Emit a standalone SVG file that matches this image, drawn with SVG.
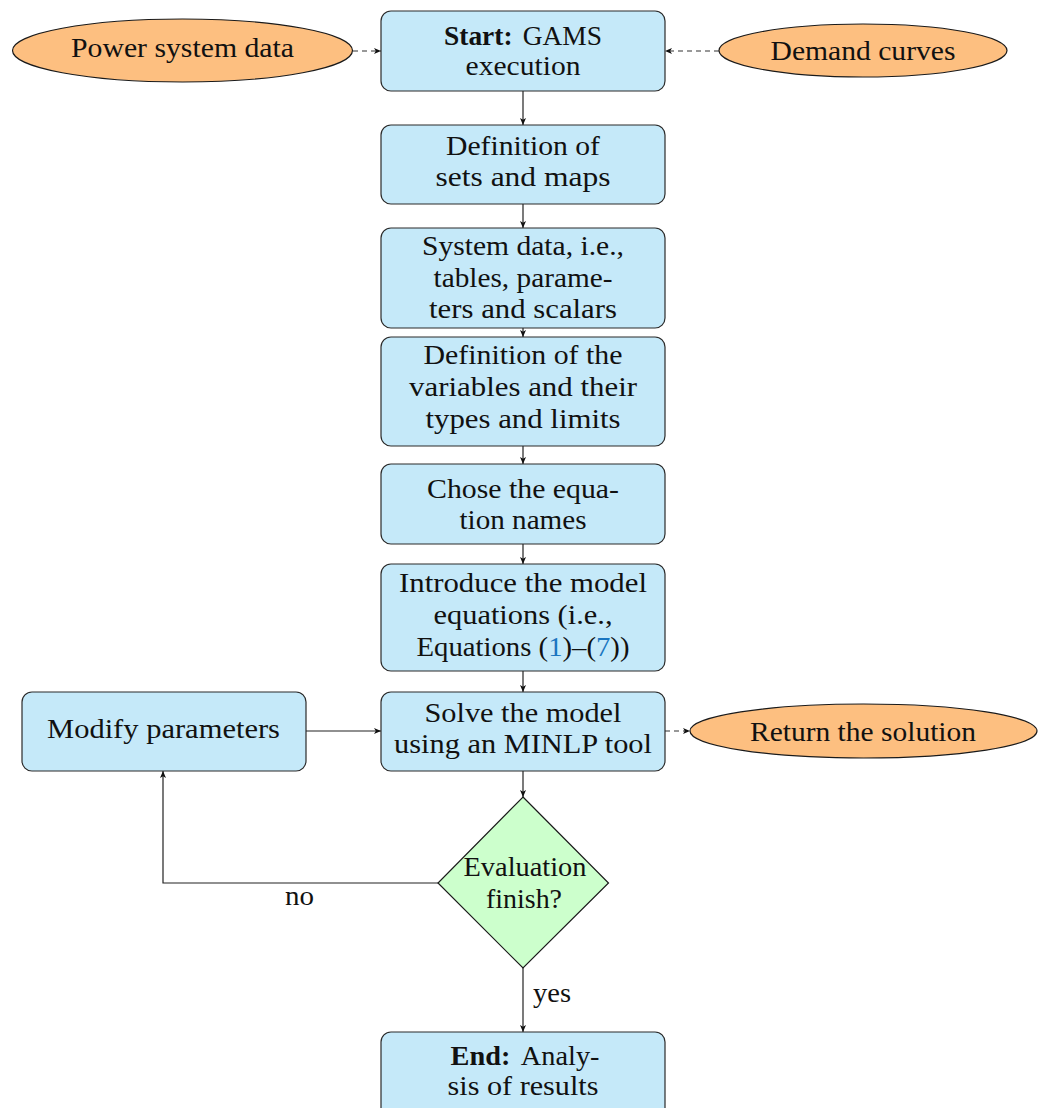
<svg xmlns="http://www.w3.org/2000/svg" width="1041" height="1108" viewBox="0 0 1041 1108">
<style>
  .box { fill: #c5e9f9; stroke: #2b2b2b; stroke-width: 1.2; }
  .ell { fill: #fdbf80; stroke: #1a1a1a; stroke-width: 1.2; }
  .dia { fill: #ccffcc; stroke: #1a1a1a; stroke-width: 1.2; }
  text { font-family: "Liberation Serif", "Times New Roman", serif; font-size: 27px; fill: #111; text-anchor: middle; }
  .b { font-weight: bold; }
  .ref { fill: #1a75c0; }
  .c { fill: none; stroke: #222; stroke-width: 1.2; }
  .d { stroke-dasharray: 5 4; stroke: #333; }
</style>
<defs>
  <marker id="ah" markerUnits="userSpaceOnUse" markerWidth="10" markerHeight="8" refX="7" refY="3" orient="auto">
    <path d="M0,0 L7,3 L0,6 L1.8,3 Z" fill="#111"/>
  </marker>
</defs>

<g id="connectors">
  <path class="c d" d="M353,51 H381" marker-end="url(#ah)"/>
  <path class="c d" d="M719,51 H665" marker-end="url(#ah)"/>
  <path class="c" d="M523,91 V125" marker-end="url(#ah)"/>
  <path class="c" d="M523,204 V228" marker-end="url(#ah)"/>
  <path class="c" d="M523,328 V337" marker-end="url(#ah)"/>
  <path class="c" d="M523,446 V464" marker-end="url(#ah)"/>
  <path class="c" d="M523,544 V564" marker-end="url(#ah)"/>
  <path class="c" d="M523,671 V692" marker-end="url(#ah)"/>
  <path class="c" d="M306,731 H381" marker-end="url(#ah)"/>
  <path class="c d" d="M665,731 H690" marker-end="url(#ah)"/>
  <path class="c" d="M523,771 V797" marker-end="url(#ah)"/>
  <path class="c" d="M438,883 H163 V771" marker-end="url(#ah)"/>
  <path class="c" d="M523,968 V1032" marker-end="url(#ah)"/>
  <text x="299.5" y="905" textLength="29" lengthAdjust="spacingAndGlyphs">no</text>
  <text x="552" y="1002" textLength="38" lengthAdjust="spacingAndGlyphs">yes</text>
</g>

<g id="power-data">
  <ellipse class="ell" cx="182.5" cy="50.5" rx="170" ry="31.5"/>
  <text x="182.5" y="57" textLength="223" lengthAdjust="spacingAndGlyphs">Power system data</text>
</g>

<g id="demand-curves">
  <ellipse class="ell" cx="863" cy="50.5" rx="144" ry="26.5"/>
  <text x="863" y="60" textLength="185" lengthAdjust="spacingAndGlyphs">Demand curves</text>
</g>

<g id="start">
  <rect class="box" x="381" y="11" width="284" height="80" rx="10"/>
  <text x="523" y="45" textLength="158" lengthAdjust="spacingAndGlyphs"><tspan class="b">Start:</tspan><tspan dx="10">GAMS</tspan></text>
  <text x="523" y="75" textLength="115" lengthAdjust="spacingAndGlyphs">execution</text>
</g>

<g id="sets">
  <rect class="box" x="381" y="125" width="284" height="79" rx="10"/>
  <text x="523" y="155" textLength="154" lengthAdjust="spacingAndGlyphs">Definition of</text>
  <text x="523" y="186" textLength="175" lengthAdjust="spacingAndGlyphs">sets and maps</text>
</g>

<g id="system-data">
  <rect class="box" x="381" y="228" width="284" height="100" rx="10"/>
  <text x="523" y="255" textLength="202" lengthAdjust="spacingAndGlyphs">System data, i.e.,</text>
  <text x="523" y="287" textLength="179" lengthAdjust="spacingAndGlyphs">tables, parame-</text>
  <text x="523" y="318" textLength="188" lengthAdjust="spacingAndGlyphs">ters and scalars</text>
</g>

<g id="variables">
  <rect class="box" x="381" y="337" width="284" height="109" rx="10"/>
  <text x="523" y="364" textLength="199" lengthAdjust="spacingAndGlyphs">Definition of the</text>
  <text x="523" y="396" textLength="228" lengthAdjust="spacingAndGlyphs">variables and their</text>
  <text x="523" y="428" textLength="195" lengthAdjust="spacingAndGlyphs">types and limits</text>
</g>

<g id="equation-names">
  <rect class="box" x="381" y="464" width="284" height="80" rx="10"/>
  <text x="523" y="498" textLength="192" lengthAdjust="spacingAndGlyphs">Chose the equa-</text>
  <text x="523" y="529" textLength="127" lengthAdjust="spacingAndGlyphs">tion names</text>
</g>

<g id="model-equations">
  <rect class="box" x="381" y="564" width="284" height="107" rx="10"/>
  <text x="523" y="592" textLength="248" lengthAdjust="spacingAndGlyphs">Introduce the model</text>
  <text x="523" y="624" textLength="179" lengthAdjust="spacingAndGlyphs">equations (i.e.,</text>
  <text x="523" y="656" textLength="213" lengthAdjust="spacingAndGlyphs">Equations (<tspan class="ref">1</tspan>)–(<tspan class="ref">7</tspan>))</text>
</g>

<g id="solve">
  <rect class="box" x="381" y="692" width="284" height="79" rx="10"/>
  <text x="523" y="722" textLength="197" lengthAdjust="spacingAndGlyphs">Solve the model</text>
  <text x="523" y="753" textLength="258" lengthAdjust="spacingAndGlyphs">using an MINLP tool</text>
</g>

<g id="modify">
  <rect class="box" x="22" y="692" width="284" height="79" rx="10"/>
  <text x="163.5" y="738" textLength="233" lengthAdjust="spacingAndGlyphs">Modify parameters</text>
</g>

<g id="return-solution">
  <ellipse class="ell" cx="863.5" cy="731" rx="173.5" ry="27"/>
  <text x="863" y="741" textLength="226" lengthAdjust="spacingAndGlyphs">Return the solution</text>
</g>

<g id="evaluation">
  <polygon class="dia" points="523,797 608.5,883 523,968 438,883"/>
  <text x="525" y="876" textLength="123" lengthAdjust="spacingAndGlyphs">Evaluation</text>
  <text x="524" y="908" textLength="76" lengthAdjust="spacingAndGlyphs">finish?</text>
</g>

<g id="end">
  <rect class="box" x="381" y="1032" width="284" height="90" rx="10"/>
  <text x="525" y="1065" textLength="149" lengthAdjust="spacingAndGlyphs"><tspan class="b">End:</tspan><tspan dx="10">Analy-</tspan></text>
  <text x="523" y="1095" textLength="151" lengthAdjust="spacingAndGlyphs">sis of results</text>
</g>
</svg>
